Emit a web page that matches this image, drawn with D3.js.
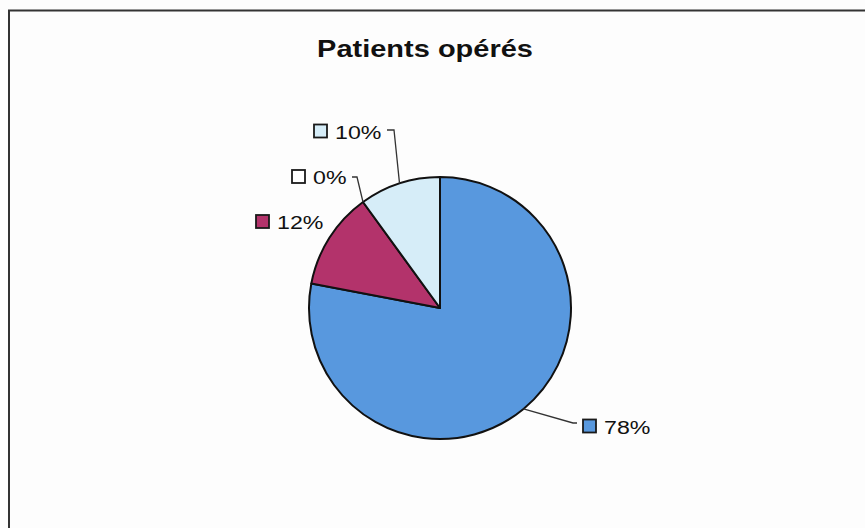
<!DOCTYPE html>
<html>
<head>
<meta charset="utf-8">
<script src="https://cdn.jsdelivr.net/npm/d3@7"></script>
<style>
  html, body { margin: 0; padding: 0; background: #fdfdfd; }
  svg { display: block; }
  text { font-family: "Liberation Sans", Arial, sans-serif; fill: #111; }
</style>
</head>
<body>
<svg id="chart" width="865" height="528"></svg>
<script>
// ---- data ----
const title = "Patients opérés";
const categories = ["Catégorie 1", "Catégorie 2", "Catégorie 3", "Catégorie 4"];
const values = [78, 12, 0, 10];
const labels = ["78%", "12%", "0%", "10%"];

// ---- styles / layout ----
const colors = ["#5898de", "#b3336b", "#ffffff", "#d6edf8"];
const W = 865, H = 528;
const cx = 440, cy = 308, R = 131;
const textScaleX = 1.22;
// label box position (offset from pie centre): [box left dx, box centre dy]
const labelLayout = [[143, 118], [-184, -86.5], [-148, -131.5], [-126, -177]];
// leader elbows (offset from pie centre): null = no leader
const leaderLayout = [
  [[133, 115], [137, 115]],
  null,
  [[-83, -131], [-88, -131]],
  [[-46, -178], [-53, -178]]
];

const svg = d3.select("#chart");
svg.append("rect").attr("width", W).attr("height", H).attr("fill", "#fdfdfd");

// frame (top and left edges visible)
svg.append("path")
  .attr("d", "M9,528 L9,10.5 L865,10.5")
  .attr("fill", "none").attr("stroke", "#333").attr("stroke-width", 2);

// title
svg.append("text")
  .attr("transform", `translate(425,56.5) scale(1.26,1)`)
  .attr("text-anchor", "middle")
  .attr("font-size", 23).attr("font-weight", "bold")
  .text(title);

const data = categories.map((c, i) => ({ cat: c, value: values[i], label: labels[i], i }));
const pie = d3.pie().sort(null).value(d => d.value).startAngle(0).endAngle(2 * Math.PI);
const arcs = pie(data);
const arc = d3.arc().innerRadius(0).outerRadius(R);

const g = svg.append("g").attr("transform", `translate(${cx},${cy})`);
g.selectAll("path.slice")
  .data(arcs.filter(d => d.value > 0))
  .join("path")
  .attr("class", "slice")
  .attr("d", arc)
  .attr("fill", d => colors[d.data.i])
  .attr("stroke", "#111")
  .attr("stroke-width", 2)
  .attr("stroke-linejoin", "round");

// leader lines
arcs.forEach(d => {
  const lay = leaderLayout[d.data.i];
  if (!lay) return;
  const a = (d.startAngle + d.endAngle) / 2;
  const p0 = [R * Math.sin(a), -R * Math.cos(a)];
  g.append("path")
    .attr("d", d3.line()([p0, lay[0], lay[1]]))
    .attr("fill", "none").attr("stroke", "#333").attr("stroke-width", 1.3);
});

// labels
arcs.forEach(d => {
  const [bx, by] = labelLayout[d.data.i];
  g.append("rect")
    .attr("x", bx).attr("y", by - 6.5)
    .attr("width", 13).attr("height", 13)
    .attr("fill", colors[d.data.i])
    .attr("stroke", "#1a1a1a").attr("stroke-width", 1.8);
  g.append("text")
    .attr("transform", `translate(${bx + 21},${by + 7.5}) scale(${textScaleX},1)`)
    .attr("font-size", 19)
    .text(d.data.label);
});
</script>
</body>
</html>
